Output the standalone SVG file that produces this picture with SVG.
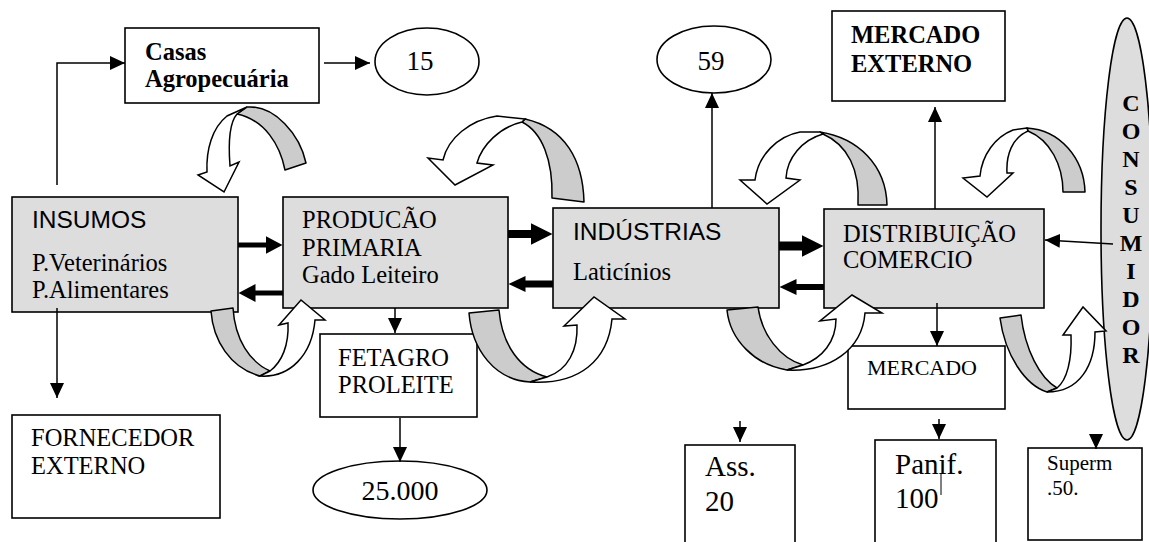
<svg xmlns="http://www.w3.org/2000/svg" width="1149" height="542" viewBox="0 0 1149 542">
<style>
.box{fill:#fff;stroke:#000;stroke-width:1.6}
.gbox{fill:#dddddd;stroke:#000;stroke-width:1.6}
.t{font-family:"Liberation Serif","Times New Roman",serif;font-size:24.5px;fill:#000}
.s{font-family:"Liberation Sans",Arial,sans-serif;font-size:24.5px;fill:#000}
.b{font-weight:bold}
.ln{stroke:#000;stroke-width:1.5;fill:none}
.thk{stroke:#000;fill:none}
.ribG{fill:#cccccc;stroke:#000;stroke-width:1.5;stroke-linejoin:round}
.ribW{fill:#fff;stroke:#000;stroke-width:1.5;stroke-linejoin:miter}
</style>
<defs>
<marker id="ah" markerUnits="userSpaceOnUse" markerWidth="15" markerHeight="14" refX="15" refY="7" orient="auto"><path d="M0,0 L15,7 L0,14 Z" fill="#000"/></marker>
<marker id="hA" markerUnits="userSpaceOnUse" markerWidth="17" markerHeight="18" refX="0.5" refY="9" orient="auto"><path d="M0,0 L17,9 L0,18 Z" fill="#000"/></marker>
<marker id="hB" markerUnits="userSpaceOnUse" markerWidth="22" markerHeight="22" refX="0.5" refY="11" orient="auto"><path d="M0,0 L22,11 L0,22 Z" fill="#000"/></marker>
<marker id="hC" markerUnits="userSpaceOnUse" markerWidth="17" markerHeight="16" refX="0.5" refY="8" orient="auto"><path d="M0,0 L17,8 L0,16 Z" fill="#000"/></marker>
</defs>
<rect width="1149" height="542" fill="#fff"/>

<g id="consumidor">
<ellipse cx="1127" cy="229" rx="26" ry="211" fill="#dddddd" stroke="#000" stroke-width="1.6"/>
<g class="t b" text-anchor="middle" style="font-size:24px">
<text x="1131" y="111">C</text><text x="1131" y="139">O</text><text x="1131" y="167">N</text><text x="1131" y="195">S</text><text x="1131" y="223">U</text><text x="1131" y="251">M</text><text x="1131" y="279">I</text><text x="1131" y="307">D</text><text x="1131" y="335">O</text><text x="1131" y="363">R</text>
</g>
</g>

<g id="casas"><rect class="box" x="125" y="28" width="194" height="75"/>
<text class="t b" x="145" y="60">Casas</text><text class="t b" x="145" y="87">Agropecuária</text></g>
<g id="n15"><ellipse class="box" cx="427" cy="61.5" rx="52" ry="33.5"/><text class="t" x="420" y="70" text-anchor="middle" style="font-size:27px">15</text></g>
<g id="n59"><ellipse class="box" cx="714" cy="59.5" rx="57" ry="33.5"/><text class="t" x="711" y="70" text-anchor="middle" style="font-size:27px">59</text></g>
<g id="mercadoExterno"><rect class="box" x="832" y="11" width="173" height="90"/>
<text class="t b" x="851" y="43">MERCADO</text><text class="t b" x="851" y="72">EXTERNO</text></g>

<g id="insumos"><rect class="gbox" x="12" y="197" width="226" height="115"/>
<text class="s" x="32" y="228">INSUMOS</text><text class="t" x="32" y="271">P.Veterinários</text><text class="t" x="32" y="298">P.Alimentares</text></g>
<g id="producao"><rect class="gbox" x="283" y="197" width="225" height="111"/>
<text class="t" x="302" y="228">PRODUCÃO</text><text class="t" x="302" y="256">PRIMARIA</text><text class="t" x="302" y="283">Gado Leiteiro</text></g>
<g id="industrias"><rect class="gbox" x="553" y="208" width="226" height="100"/>
<text class="s" x="573" y="240">INDÚSTRIAS</text><text class="t" x="573" y="280">Laticínios</text></g>
<g id="distribuicao"><rect class="gbox" x="824" y="209" width="220" height="99"/>
<text class="t" x="843" y="242">DISTRIBUIÇÃO</text><text class="t" x="843" y="268">COMERCIO</text></g>

<g id="fetagro"><rect class="box" x="320" y="334" width="157" height="83"/>
<text class="t" x="338" y="366">FETAGRO</text><text class="t" x="338" y="393">PROLEITE</text></g>
<g id="mercado"><rect class="box" x="848" y="346" width="157" height="63"/>
<text class="t" x="867" y="375" style="font-size:22px">MERCADO</text></g>
<g id="fornecedor"><rect class="box" x="12" y="415" width="208" height="103"/>
<text class="t" x="31" y="446">FORNECEDOR</text><text class="t" x="31" y="474">EXTERNO</text></g>
<g id="n25000"><ellipse class="box" cx="400" cy="490" rx="87" ry="29"/><text class="t" x="400" y="500" text-anchor="middle" style="font-size:28px">25.000</text></g>
<g id="ass"><rect class="box" x="685" y="445" width="110" height="110"/>
<text class="t" x="705" y="476" style="font-size:29px">Ass.</text><text class="t" x="705" y="511" style="font-size:29px">20</text></g>
<g id="panif"><rect class="box" x="875" y="440" width="121" height="110"/>
<text class="t" x="895" y="474" style="font-size:29px">Panif.</text><text class="t" x="895" y="508" style="font-size:29px">100</text></g>
<g id="superm"><rect class="box" x="1028" y="448" width="114" height="92"/>
<text class="t" x="1047" y="470" style="font-size:21px">Superm</text><text class="t" x="1047" y="495" style="font-size:21px">.50.</text></g>

<g id="connectors">
<path class="ln" d="M57,185 V63 H125" marker-end="url(#ah)"/>
<path class="ln" d="M324,63 H370" marker-end="url(#ah)"/>
<path class="ln" d="M712,208 V93" marker-end="url(#ah)"/>
<path class="ln" d="M935,209 V107" marker-end="url(#ah)"/>
<path class="ln" d="M1113,244 L1045,240" marker-end="url(#ah)"/>
<path class="ln" d="M57,308 V398" marker-end="url(#ah)"/>
<path class="ln" d="M395,308 V333" marker-end="url(#ah)"/>
<path class="ln" d="M400,418 V462" marker-end="url(#ah)"/>
<path class="ln" d="M937,303 V346" marker-end="url(#ah)"/>
<path class="ln" d="M740,421 V442" marker-end="url(#ah)"/>
<path class="ln" d="M939,419 V439" marker-end="url(#ah)"/>
<path class="ln" d="M1096,440 V449" marker-end="url(#ah)"/>
<path class="ln" d="M941,473 V495" style="stroke-width:1"/>
<path class="thk" d="M238,245 H266" stroke-width="5" marker-end="url(#hA)"/>
<path class="thk" d="M283,293 H255" stroke-width="5" marker-end="url(#hA)"/>
<path class="thk" d="M508,234 H531" stroke-width="8" marker-end="url(#hB)"/>
<path class="thk" d="M553,284 H525" stroke-width="7" marker-end="url(#hC)"/>
<path class="thk" d="M779,246 H802" stroke-width="9" marker-end="url(#hB)"/>
<path class="thk" d="M824,287 H796" stroke-width="6" marker-end="url(#hC)"/>

<path class="ribG" d="M247,107 C275,105 300,135 306,163 L285,170 C280,145 265,120 237,114 Z"/>
<path class="ribW" d="M247,107 L227,116 C212,128 206,150 207,172 L198,175 L224,192 L239,162 L230,166 C228,140 230,122 237,114 Z"/>

<path class="ribG" d="M525,119 C565,128 583,160 584,202 L552,198 C553,160 542,132 522,122 Z"/>
<path class="ribW" d="M525,119 L497,116 C470,120 448,138 443,160 L428,158 L455,185 L493,165 L477,163 C482,145 500,127 522,122 Z"/>

<path class="ribG" d="M820,132 C858,138 886,165 887,205 L858,205 C860,170 848,145 823,134 Z"/>
<path class="ribW" d="M820,132 L800,132 C778,136 758,155 755,180 L740,180 L767,204 L800,180 L786,178 C787,158 802,140 823,134 Z"/>

<path class="ribG" d="M1027,128 C1060,130 1084,158 1085,192 L1063,192 C1063,165 1050,140 1028,131 Z"/>
<path class="ribW" d="M1027,128 L1013,130 C995,137 982,155 980,176 L963,178 L987,197 L1013,173 L1007,173 C1006,155 1012,138 1028,131 Z"/>

<path class="ribG" d="M211,311 L233,308 C235,340 250,362 270,371 L260,376 C230,368 213,340 211,311 Z"/>
<path class="ribW" d="M260,376 C290,378 312,355 315,320 L325,320 L301,300 L279,325 L288,323 C289,345 282,362 270,371 Z"/>

<path class="ribG" d="M469,313 L499,310 C502,345 520,370 547,377 L530,382 C495,380 472,350 469,313 Z"/>
<path class="ribW" d="M530,382 C580,385 608,360 612,319 L625,319 L594,297 L564,326 L577,325 C578,350 568,370 547,377 Z"/>

<path class="ribG" d="M727,310 L758,307 C762,335 780,358 803,365 L787,370 C755,365 730,340 727,310 Z"/>
<path class="ribW" d="M787,370 C830,372 862,350 865,313 L882,313 L852,295 L820,321 L836,319 C836,342 822,358 803,365 Z"/>

<path class="ribG" d="M1000,318 L1021,315 C1025,350 1040,378 1057,388 L1047,392 C1025,385 1005,355 1000,318 Z"/>
<path class="ribW" d="M1047,392 C1080,392 1095,365 1095,332 L1106,331 L1083,307 L1063,335 L1071,335 C1072,360 1067,380 1057,388 Z"/>
</g>
</svg>
